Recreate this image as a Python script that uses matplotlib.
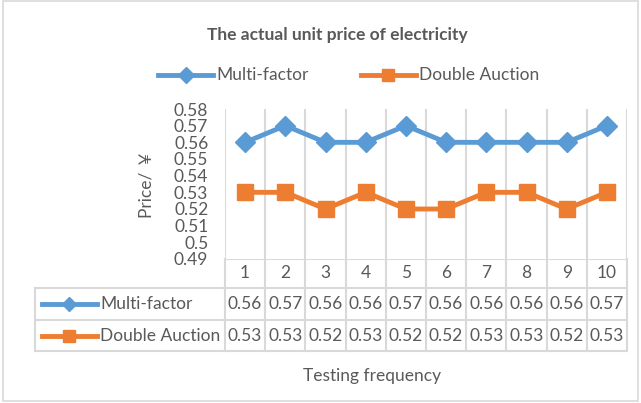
from matplotlib import pyplot as plt
from matplotlib.transforms import blended_transform_factory
import numpy as np

# data
tests = [1, 2, 3, 4, 5, 6, 7, 8, 9, 10]
multi_factor = [0.56, 0.57, 0.56, 0.56, 0.57, 0.56, 0.56, 0.56, 0.56, 0.57]
double_auction = [0.53, 0.53, 0.52, 0.53, 0.52, 0.52, 0.53, 0.53, 0.52, 0.53]
y_ticks = [0.49, 0.50, 0.51, 0.52, 0.53, 0.54, 0.55, 0.56, 0.57, 0.58]
y_labels = ["0.49", "0.5", "0.51", "0.52", "0.53", "0.54", "0.55", "0.56", "0.57", "0.58"]

plt.rcParams['font.family'] = ['Lato', 'Noto Sans CJK SC', 'DejaVu Sans']
txt = "#595959"
grid = "#D9D9D9"
blue = "#5B9BD5"
orange = "#ED7D31"
fs = 12.5

W, H = 641, 403
fig = plt.figure(figsize=(W / 100, H / 100), dpi=100)

# overlay in pixel coordinates (border, title, legend, table)
bg = fig.add_axes([0, 0, 1, 1])
bg.set_xlim(0, W)
bg.set_ylim(H, 0)
bg.axis("off")

# plot area
left, right, top, bottom = 225, 627, 109, 259
ax = fig.add_axes([left / W, 1 - bottom / H, (right - left) / W, (bottom - top) / H])
x = np.arange(len(tests))
ax.set_xlim(-0.5, len(tests) - 0.5)
ax.set_ylim(0.49, 0.58)
for b in np.arange(-0.5, len(tests), 1.0):
    ax.axvline(b, color=grid, lw=1.5, zorder=0)
ax.plot(x, multi_factor, color=blue, lw=3.5, marker="D", ms=10.5, zorder=3)
ax.plot(x, double_auction, color=orange, lw=3.5, marker="s", ms=11.5, zorder=3)
ax.set_yticks(y_ticks)
ax.set_yticklabels(y_labels, fontsize=fs, color=txt)
ax.set_xticks([])
ax.tick_params(axis="y", length=0, pad=12)
for s in ax.spines.values():
    s.set_visible(False)
ax.set_ylabel("Price/ ￥", fontsize=fs, color=txt, labelpad=14)

# border
bg.add_patch(plt.Rectangle((3, 1), 635, 400, fill=False, ec=grid, lw=1.2))

# title and top legend
bg.text(337, 35, "The actual unit price of electricity", ha="center", va="center",
        fontsize=12.5, fontweight="bold", color=txt)
bg.plot([158, 213], [75, 75], color=blue, lw=3.5)
bg.plot([186], [75], marker="D", color=blue, ms=8)
bg.text(216, 75, "Multi-factor", va="center", fontsize=fs, color=txt)
bg.plot([361, 416], [75, 75], color=orange, lw=3.5)
bg.plot([388], [75], marker="s", color=orange, ms=9)
bg.text(419, 75, "Double Auction", va="center", fontsize=fs, color=txt)

# data table
tr = blended_transform_factory(ax.transData, bg.transData)
rows = [288, 320, 351]
for b in np.arange(-0.5, len(tests), 1.0):
    bg.plot([b, b], [bottom, rows[-1]], color=grid, lw=1.5, transform=tr)
bg.plot([-0.5, len(tests) - 0.5], [bottom, bottom], color=grid, lw=1.5, transform=tr)
for r in rows:
    bg.plot([35, right], [r, r], color=grid, lw=1.5)
bg.plot([35, 35], [rows[0], rows[-1]], color=grid, lw=1.5)

for i, t in enumerate(tests):
    bg.text(x[i], 273, str(t), ha="center", va="center", fontsize=fs, color=txt, transform=tr)
    bg.text(x[i], 304, f"{multi_factor[i]:.2f}", ha="center", va="center", fontsize=fs,
            color=txt, transform=tr)
    bg.text(x[i], 336, f"{double_auction[i]:.2f}", ha="center", va="center", fontsize=fs,
            color=txt, transform=tr)

bg.plot([42, 97], [304, 304], color=blue, lw=3.5)
bg.plot([69], [304], marker="D", color=blue, ms=7)
bg.text(100, 304, "Multi-factor", va="center", fontsize=fs, color=txt)
bg.plot([42, 97], [336, 336], color=orange, lw=3.5)
bg.plot([69], [336], marker="s", color=orange, ms=8)
bg.text(100, 336, "Double Auction", va="center", fontsize=fs, color=txt)

bg.text(372, 376, "Testing frequency", ha="center", va="center", fontsize=fs, color=txt)

plt.savefig("out.png", dpi=100)
